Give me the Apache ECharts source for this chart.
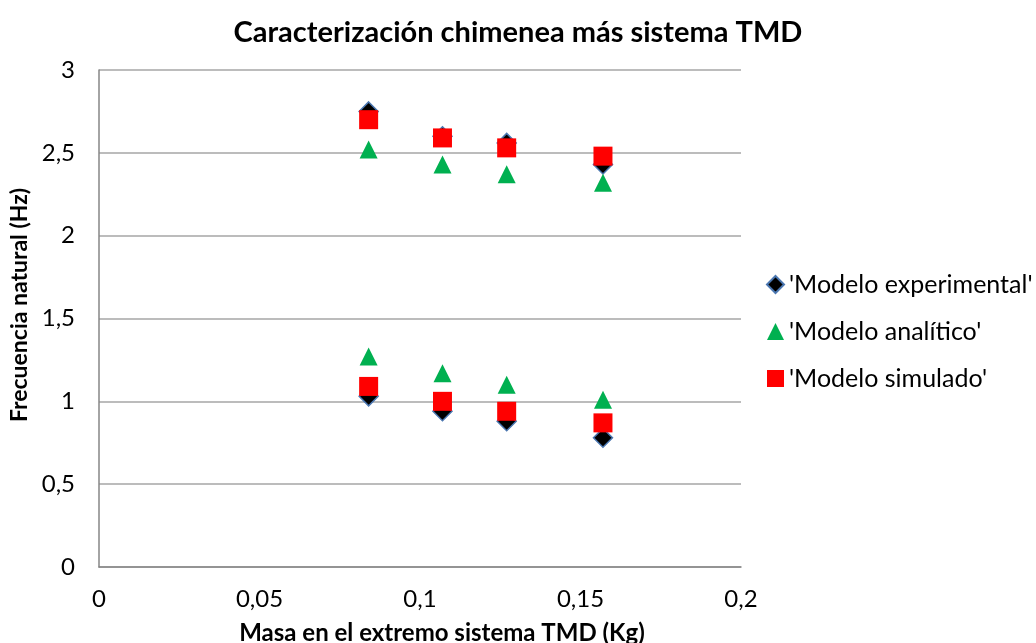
<!DOCTYPE html>
<html>
<head>
<meta charset="utf-8">
<script src="https://cdn.jsdelivr.net/npm/echarts@6/dist/echarts.min.js"></script>
<style>
html,body{margin:0;padding:0;background:#fff;}
#c{width:1036px;height:643px;}
</style>
</head>
<body>
<div id="c"></div>
<script>
const masa = [0.084, 0.107, 0.127, 0.157];
const expModo1 = [1.03, 0.94, 0.88, 0.78];
const expModo2 = [2.75, 2.60, 2.56, 2.43];
const anaModo1 = [1.27, 1.17, 1.10, 1.01];
const anaModo2 = [2.52, 2.43, 2.37, 2.32];
const simModo1 = [1.09, 1.00, 0.94, 0.87];
const simModo2 = [2.70, 2.59, 2.53, 2.48];
const seriesNames = ["'Modelo experimental'", "'Modelo analítico'", "'Modelo simulado'"];
const titleText = 'Caracterización chimenea más sistema TMD';
const xName = 'Masa en el extremo sistema TMD (Kg)';
const yName = 'Frecuencia natural (Hz)';

function pts(a, b) {
  return masa.map((x, i) => [x, a[i]]).concat(masa.map((x, i) => [x, b[i]]));
}
const fmt = v => String(+v.toFixed(2)).replace('.', ',');
const FONT = 'Lato';

const chart = echarts.init(document.getElementById('c'), null, {renderer: 'canvas'});
chart.setOption({
  animation: false,
  backgroundColor: '#fff',
  textStyle: {fontFamily: FONT},
  title: {
    text: titleText, left: 'center', top: 13,
    textStyle: {fontFamily: FONT, fontSize: 29, fontWeight: 'bold', color: '#000'}
  },
  grid: {left: 99, right: 295, top: 70, bottom: 76, containLabel: false, outerBoundsMode: 'none'},
  legend: {
    orient: 'vertical', left: 761, top: 267, itemGap: 22,
    itemWidth: 17, itemHeight: 17,
    textStyle: {fontFamily: FONT, fontSize: 25, color: '#000'},
    data: seriesNames
  },
  xAxis: {
    type: 'value', min: 0, max: 0.2, interval: 0.05,
    name: xName, nameLocation: 'middle', nameGap: 54,
    nameTextStyle: {fontFamily: FONT, fontSize: 24, fontWeight: 'bold', color: '#000', padding: [0, 0, 0, 44]},
    axisLine: {show: true, lineStyle: {color: '#868686', width: 1.5}},
    axisTick: {show: false},
    splitLine: {show: false},
    axisLabel: {formatter: fmt, fontFamily: FONT, fontSize: 24, color: '#000', margin: 20}
  },
  yAxis: {
    type: 'value', min: 0, max: 3, interval: 0.5,
    name: yName, nameLocation: 'middle', nameGap: 65, nameRotate: 90,
    nameTextStyle: {fontFamily: FONT, fontSize: 23, fontWeight: 'bold', color: '#000', padding: [0, 0, 0, 27]},
    axisLine: {show: true, lineStyle: {color: '#868686', width: 1.5}},
    axisTick: {show: false},
    splitLine: {show: true, lineStyle: {color: '#a6a6a6', width: 1.5}},
    axisLabel: {formatter: fmt, fontFamily: FONT, fontSize: 24, color: '#000', margin: 24}
  },
  series: [
    {name: seriesNames[0], type: 'scatter', symbol: 'diamond', symbolSize: 19,
     itemStyle: {color: '#000', borderColor: '#4a76b0', borderWidth: 1.5, opacity: 1},
     data: pts(expModo1, expModo2)},
    {name: seriesNames[1], type: 'scatter', symbol: 'triangle', symbolSize: 18,
     itemStyle: {color: '#00b050', opacity: 1},
     data: pts(anaModo1, anaModo2)},
    {name: seriesNames[2], type: 'scatter', symbol: 'rect', symbolSize: 19,
     itemStyle: {color: '#ff0000', opacity: 1},
     data: pts(simModo1, simModo2)}
  ]
});
</script>
</body>
</html>
